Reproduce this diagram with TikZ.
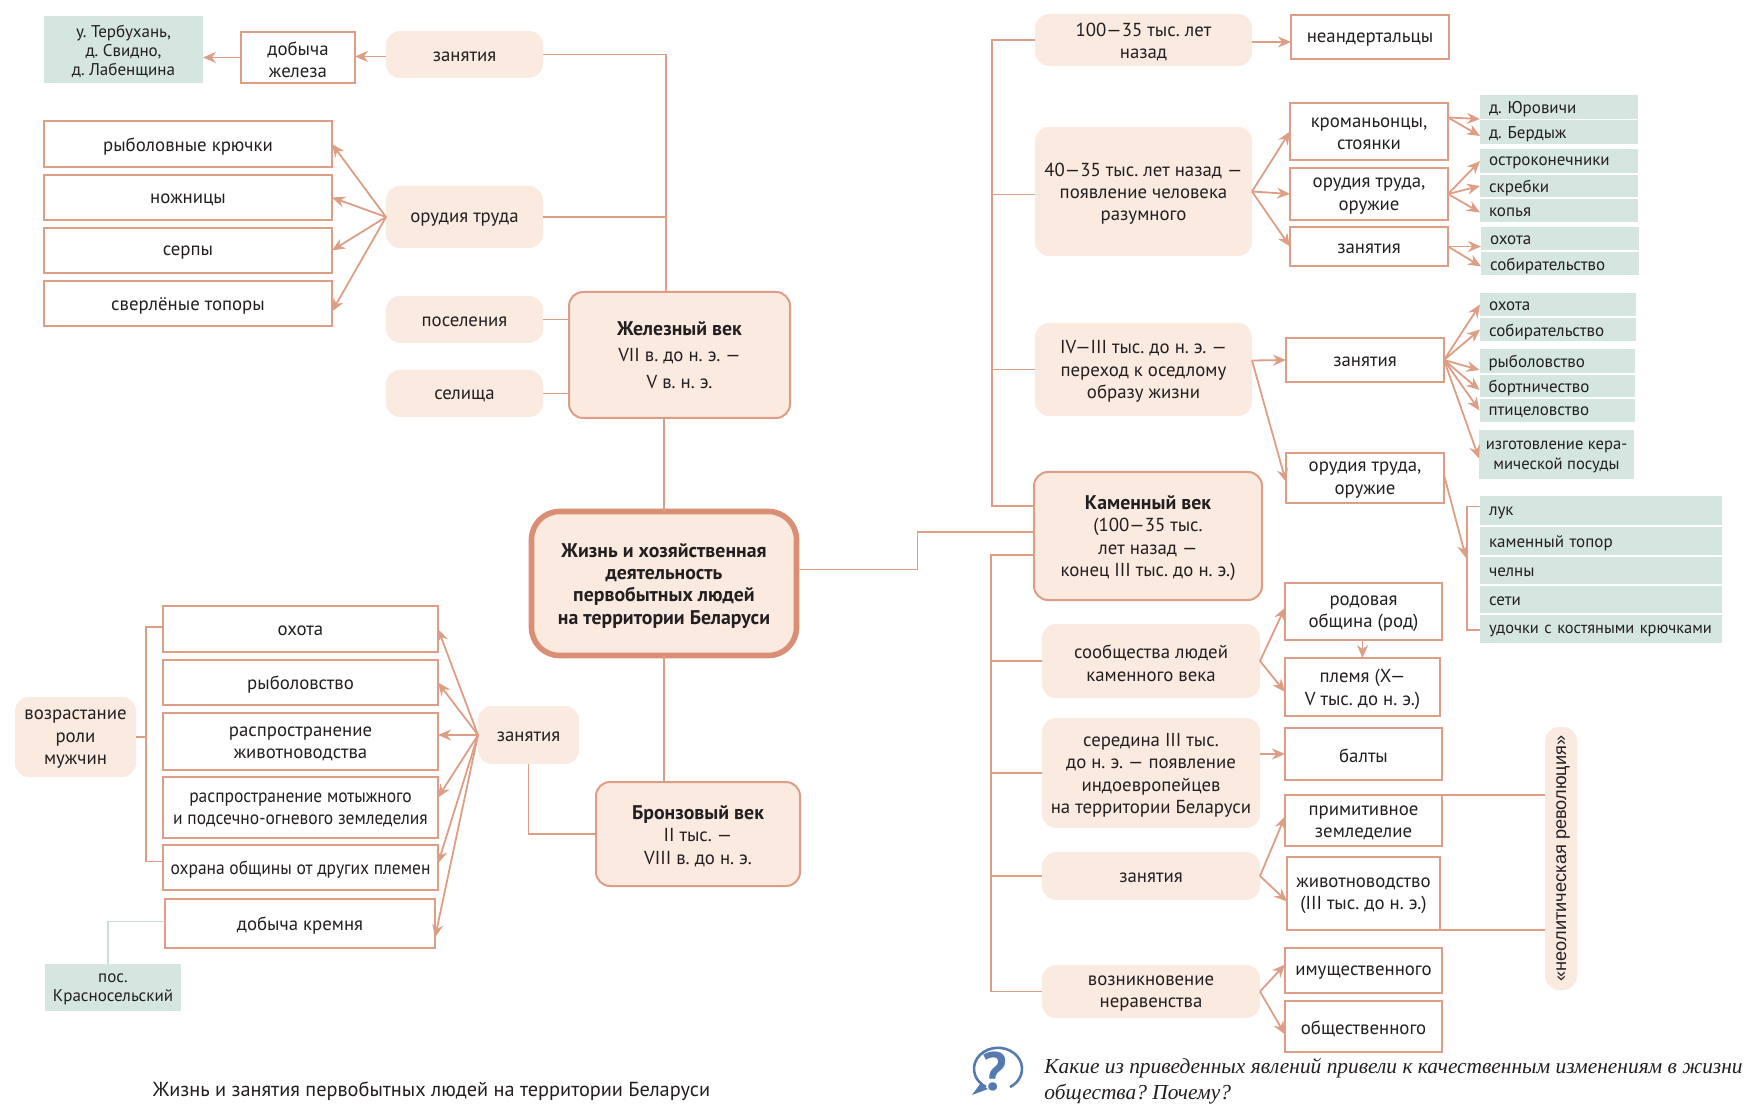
\documentclass[tikz,border=0pt]{standalone}
\usepackage{fontspec}
\setmainfont{PT Sans}
\newfontfamily\serifit{Liberation Serif}
\newfontfamily\widesans{Liberation Sans}
\newfontfamily\narrowsans[FakeStretch=0.93]{PT Sans}
\usepackage{tikz}
\usetikzlibrary{arrows.meta, calc}
\definecolor{pillcolor}{RGB}{250, 234, 224}
\definecolor{linecolor}{RGB}{222, 157, 133}
\definecolor{maincolor}{RGB}{218, 143, 117}
\definecolor{tagcolor}{RGB}{213, 230, 224}
\definecolor{tagline}{RGB}{200, 222, 215}
\definecolor{inkcolor}{RGB}{35, 31, 32}
\definecolor{askcolor}{RGB}{84, 122, 176}
\newcommand{\bodysize}{\fontsize{9.4}{11.2}\selectfont}
\newcommand{\tagsize}{\fontsize{8.5}{9.6}\selectfont}
\newcommand{\agetitle}[1]{{\fontsize{9.9}{11.2}\selectfont\bfseries #1}}
\tikzset{
    sz/.style 2 args={minimum width=#1*0.5pt, minimum height=#2*0.5pt},
    lsz/.style 2 args={text width=#1*0.5pt-9pt, minimum height=#2*0.5pt},
    lowered/.style={execute at begin node={\vbox\bgroup\kern2.2pt\hbox\bgroup}, execute at end node={\egroup\egroup}},
    plainpill/.style={fill=pillcolor, rounded corners=7pt, inner sep=0pt, outer sep=0pt, align=center, font=\bodysize, text=inkcolor},
    pill/.style={plainpill, lowered},
    agebox/.style={pill, draw=linecolor, line width=1pt},
    mainbox/.style={pill, draw=maincolor, line width=2.8pt, rounded corners=14pt, font=\fontsize{9.9}{11.2}\selectfont\bfseries},
    itembox/.style={lowered, draw=linecolor, line width=1pt, inner sep=0pt, outer sep=0pt, align=center, font=\bodysize, text=inkcolor},
    tagbox/.style={lowered, fill=tagcolor, inner xsep=4.5pt, inner ysep=0pt, outer sep=0pt, align=left, font=\tagsize, text=inkcolor},
    link/.style={draw=linecolor, line width=0.9pt},
    tolink/.style={link, -{Stealth[length=6.5pt, width=5.5pt]}}
}
\begin{document}
\frenchspacing
\begin{tikzpicture}[x=0.5pt, y=-0.5pt]
    \useasboundingbox (0,0) rectangle (1759,1111);

    % Centre and ages
    \node[mainbox, sz={265}{144}] (main) at (664,583.5) {Жизнь и хозяйственная\\деятельность\\первобытных людей\\на территории Беларуси};
    \node[plainpill, draw=linecolor, line width=1pt, sz={221}{126}] (iron) at (679.5,355) {\agetitle{Железный век}\\[2pt]VII в. до н. э. —\\[2pt]V в. н. э.};
    \node[agebox, sz={204}{104}] (bronze) at (698,834) {\agetitle{Бронзовый век}\\II тыс. —\\VIII в. до н. э.};
    \node[agebox, sz={228}{128}] (kamen) at (1148,536) {\agetitle{Каменный век}\\(100—35 тыс.\\лет назад —\\конец III тыс. до н. э.)};

    % Iron age
    \node[pill, sz={157}{47}] (zan1) at (464.5,54.5) {занятия};
    \node[pill, sz={157}{62}] (tools1) at (464.5,217) {орудия труда};
    \node[pill, sz={157}{47}] (pos) at (464.5,319.5) {поселения};
    \node[pill, sz={157}{47}] (sel) at (464.5,393.5) {селища};
    \node[itembox, sz={114}{51}] (dob) at (298,57.5) {добыча\\железа};
    \node[tagbox, align=center, inner xsep=0pt, sz={159}{67}] (ter) at (123.5,49.5) {у. Тербухань,\\д. Свидно,\\д. Лабенщина};
    \node[itembox, sz={288}{46}] (hook) at (188,144) {рыболовные крючки};
    \node[itembox, sz={288}{45}] (nozh) at (188,197.5) {ножницы};
    \node[itembox, sz={288}{45}] (serp) at (188,250.5) {серпы};
    \node[itembox, sz={288}{45}] (topor) at (188,303.5) {сверлёные топоры};

    \coordinate (ironspine) at (666,292);
    \draw[link] (zan1.east) -| (ironspine);
    \draw[link] (tools1.east) -- (tools1.east -| ironspine);
    \draw[link] (pos.east) -- (pos.east -| iron.west);
    \draw[link] (sel.east) -- (sel.east -| iron.west);
    \draw[link] (main.north) -- (main.north |- iron.south);
    \draw[tolink] ([yshift=-1pt]zan1.west) -- ([yshift=-1pt]zan1.west -| dob.east);
    \draw[tolink] (dob.west) -- (dob.west -| ter.east);
    \draw[tolink] (tools1.west) -- (hook.east);
    \draw[tolink] (tools1.west) -- (nozh.east);
    \draw[tolink] (tools1.west) -- (serp.east);
    \draw[tolink] (tools1.west) -- ([yshift=-4pt]topor.east);

    % Bronze age
    \node[pill, sz={101}{58}] (zan3) at (528.5,735) {занятия};
    \node[pill, sz={121}{80}] (rol) at (75.5,737) {возрастание\\роли\\мужчин};
    \node[itembox, sz={275}{46}] (ohota) at (300.5,629) {охота};
    \node[itembox, sz={275}{45}] (ryb) at (300.5,682.5) {рыболовство};
    \node[itembox, sz={275}{57}] (rasp) at (300.5,741.5) {распространение\\животноводства};
    \node[itembox, font=\narrowsans\bodysize, sz={275}{61}] (mot) at (300.5,807.5) {распространение мотыжного\\и подсечно-огневого земледелия};
    \node[itembox, font=\narrowsans\bodysize, sz={275}{45}] (ohr) at (300.5,867.5) {охрана общины от других племен};
    \node[itembox, sz={270}{49}] (krem) at (300,923.5) {добыча кремня};
    \node[tagbox, align=center, inner xsep=0pt, sz={136}{47}] (kras) at (113,987.5) {пос.\\Красносельский};

    \coordinate (rolspine) at (146,739);
    \draw[link] (main.south) -- (main.south |- bronze.north);
    \draw[link] (zan3.south) |- (bronze.west);
    \draw[link] ([yshift=1pt]ohota.west) -| (rolspine) |- ([yshift=3pt]ohr.west);
    \draw[link] (rol.east) -- (rol.east -| rolspine);
    \draw[draw=tagline, line width=0.9pt] (kras.north -| 108,0) |- ([yshift=1pt]krem.west);
    \draw[tolink] (zan3.west) -- (ohota.east);
    \draw[tolink] (zan3.west) -- (ryb.east);
    \draw[tolink] (zan3.west) -- (zan3.west -| rasp.east);
    \draw[tolink] (zan3.west) -- ([yshift=5pt]mot.east);
    \draw[tolink] (zan3.west) -- ([yshift=2pt]ohr.east);
    \draw[tolink] (zan3.west) -- ([yshift=-7pt]krem.east);

    % Stone age, upper part
    \node[pill, sz={217}{52}] (p100) at (1143.5,40) {100—35 тыс. лет\\назад};
    \node[pill, sz={217}{129}] (p40) at (1143.5,191.5) {40—35 тыс. лет назад —\\появление человека\\разумного};
    \node[pill, sz={217}{93}] (p4) at (1143.5,369.5) {IV—III тыс. до н. э. —\\переход к оседлому\\образу жизни};
    \node[itembox, sz={158}{44}] (neand) at (1370,37) {неандертальцы};
    \node[itembox, sz={158}{57}] (krom) at (1369,131.5) {кроманьонцы,\\стоянки};
    \node[itembox, sz={158}{52}] (orud1) at (1369,194) {орудия труда,\\оружие};
    \node[itembox, sz={158}{39}] (zan4) at (1369,246.5) {занятия};
    \node[itembox, sz={158}{44}] (zan5) at (1365,360) {занятия};
    \node[itembox, sz={158}{50}] (orud2) at (1365,478) {орудия труда,\\оружие};

    \node[tagbox, lsz={158}{24}] (yur) at (1559,107) {д. Юровичи};
    \node[tagbox, lsz={158}{24}] (berd) at (1559,132) {д. Бердыж};
    \node[tagbox, lsz={158}{24}] (ostr) at (1559,161) {остроконечники};
    \node[tagbox, lsz={158}{22}] (skr) at (1559,186) {скребки};
    \node[tagbox, lsz={158}{23}] (kop) at (1559,210.5) {копья};
    \node[tagbox, lsz={158}{23}] (oh1) at (1560,238.5) {охота};
    \node[tagbox, lsz={158}{23}] (sob1) at (1560,263.5) {собирательство};
    \node[tagbox, lsz={156}{23}] (oh2) at (1558,304.5) {охота};
    \node[tagbox, lsz={156}{23}] (sob2) at (1558,329.5) {собирательство};
    \node[tagbox, lsz={155}{24}] (rybl) at (1557,361) {рыболовство};
    \node[tagbox, lsz={155}{22}] (bort) at (1557,386) {бортничество};
    \node[tagbox, lsz={155}{23}] (ptic) at (1557,410.5) {птицеловство};
    \node[tagbox, align=center, inner xsep=0pt, font=\fontsize{8.3}{9.8}\selectfont, sz={155}{49}] (izg) at (1556.5,454.5) {изготовление кера-\\мической посуды};
    \node[tagbox, lsz={242}{29}] (luk) at (1601,510.5) {лук};
    \node[tagbox, lsz={242}{28}] (kam) at (1601,541) {каменный топор};
    \node[tagbox, lsz={242}{27}] (cheln) at (1601,570.5) {челны};
    \node[tagbox, lsz={242}{27}] (seti) at (1601,599.5) {сети};
    \node[tagbox, font=\fontsize{8.2}{9.6}\selectfont, lsz={242}{28}] (udo) at (1601,629) {удочки с костяными крючками};

    \coordinate (spinea) at (992,506);
    \coordinate (listspine) at (1467,630);
    \coordinate (listtip) at (1466,558);
    \draw[link] ([yshift=7pt]main.east) -- ++(121,0) |- ([yshift=2pt]kamen.west);
    \draw[link] (p100.west) -| (spinea) -- ([yshift=15pt]kamen.west);
    \draw[link] ([yshift=-1.5pt]p40.west) -- ([yshift=-1.5pt]p40.west -| spinea);
    \draw[link] (p4.west) -- (p4.west -| spinea);
    \draw[link] ([yshift=2pt]luk.west) -| (listspine) -- (listspine -| udo.west);
    \draw[tolink] ([yshift=-1pt]p100.east) -- ([yshift=-1pt]p100.east -| neand.west);
    \draw[tolink] (p40.east) -- (krom.west);
    \draw[tolink] (p40.east) -- (orud1.west);
    \draw[tolink] (p40.east) -- (zan4.west);
    \draw[tolink] ([yshift=4.5pt]p4.east) -- (zan5.west);
    \draw[tolink] ([yshift=4.5pt]p4.east) -- ([yshift=-2pt]orud2.west);
    \draw[tolink] ([yshift=7pt]krom.east) -- (yur.south west);
    \draw[tolink] ([yshift=7pt]krom.east) -- ([yshift=-2pt]berd.west);
    \draw[tolink] (orud1.east) -- (ostr.west);
    \draw[tolink] (orud1.east) -- (skr.west);
    \draw[tolink] (orud1.east) -- ([yshift=-1pt]kop.west);
    \draw[tolink] (zan4.east) -- (zan4.east -| oh1.west);
    \draw[tolink] (zan4.east) -- ([yshift=-1.5pt]sob1.west);
    \draw[tolink] (zan5.east) -- (oh2.west);
    \draw[tolink] (zan5.east) -- (sob2.west);
    \draw[tolink] (zan5.east) -- ([yshift=-4.5pt]rybl.west);
    \draw[tolink] (zan5.east) -- ([yshift=-2pt]bort.west);
    \draw[tolink] (zan5.east) -- (ptic.west);
    \draw[tolink] (zan5.east) -- ([yshift=-2pt]izg.west);
    \draw[tolink] ([yshift=1.5pt]orud2.east) -- (listtip);

    % Stone age, lower part
    \node[pill, sz={218}{74}] (soob) at (1151,661) {сообщества людей\\каменного века};
    \node[pill, sz={218}{110}] (ser) at (1151,773) {середина III тыс.\\до н. э. — появление\\индоевропейцев\\на территории Беларуси};
    \node[pill, sz={218}{48}] (zan2) at (1151,876) {занятия};
    \node[pill, sz={218}{53}] (nerav) at (1151,991.5) {возникновение\\неравенства};
    \node[itembox, sz={157}{57}] (rod) at (1363.5,611.5) {родовая\\община (род)};
    \node[itembox, sz={155}{58}] (plem) at (1362.5,687) {племя (X—\\V тыс. до н. э.)};
    \node[itembox, sz={157}{52}] (balt) at (1363.5,754) {балты};
    \node[itembox, sz={157}{51}] (prim) at (1363.5,820.5) {примитивное\\земледелие};
    \node[itembox, sz={153}{73}] (zhiv) at (1363.5,893.5) {животноводство\\(III тыс. до н. э.)};
    \node[itembox, sz={157}{45}] (imu) at (1363.5,970.5) {имущественного};
    \node[itembox, sz={157}{51}] (obsh) at (1363.5,1026.5) {общественного};
    \node[pill, rotate=90, sz={263}{32}, font=\widesans\fontsize{9.1}{10}\selectfont] (neo) at (1561,858.5) {«неолитическая революция»};

    \coordinate (spineb) at (991,991.5);
    \draw[link] ([yshift=-9.5pt]kamen.west) -| (spineb) -- (nerav.west);
    \draw[link] (soob.west) -- (soob.west -| spineb);
    \draw[link] (ser.west) -- (ser.west -| spineb);
    \draw[link] (zan2.west) -- (zan2.west -| spineb);
    \draw[link] (prim.north east) -- (prim.north east -| neo.north);
    \draw[link] (zhiv.south east) -- (zhiv.south east -| neo.north);
    \draw[tolink] (soob.east) -- ([yshift=2pt]rod.west);
    \draw[tolink] (soob.east) -- ([yshift=-2.5pt]plem.west);
    \draw[tolink] (rod.south -| plem.north) -- (plem.north);
    \draw[tolink] (balt.west -| ser.east) -- (balt.west);
    \draw[tolink] (zan2.east) -- ([yshift=2pt]prim.west);
    \draw[tolink] (zan2.east) -- ([yshift=-4pt]zhiv.west);
    \draw[tolink] (nerav.east) -- ([yshift=3pt]imu.west);
    \draw[tolink] (nerav.east) -- ([yshift=-4pt]obsh.west);

    % Caption and question
    \node[font=\fontsize{10.15}{12}\selectfont, text=inkcolor, inner sep=0pt] (caption) at (431.5,1091) {Жизнь и занятия первобытных людей на территории Беларуси};
    \node[font=\serifit\itshape\fontsize{10.7}{13}\selectfont, text=inkcolor, inner sep=0pt, align=left, anchor=north west] (ask) at (1044,1058) {Какие из приведенных явлений привели к качественным изменениям в жизни\\общества? Почему?};
    \draw[askcolor, line width=1.3pt] (986,1087) arc (120:420:24 and 21);
    \fill[askcolor] (980,1084) -- (972,1095) -- (988,1089) -- cycle;
    \node[font=\bfseries\fontsize{27}{27}\selectfont, text=askcolor, inner sep=0pt] (mark) at (995,1072) {?};
\end{tikzpicture}
\end{document}
